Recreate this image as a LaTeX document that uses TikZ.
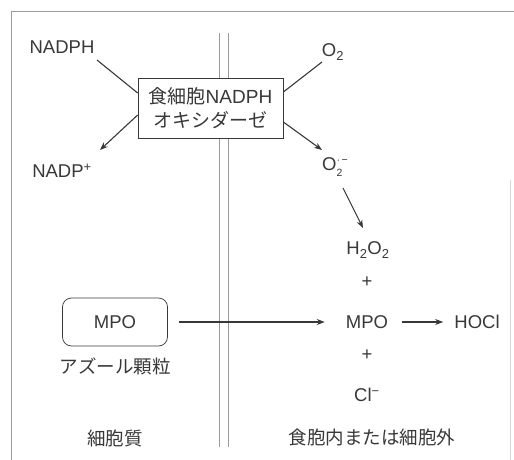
\documentclass[tikz,border=0pt]{standalone}
\usepackage{fontspec}
\setmainfont{Liberation Sans}
\newfontfamily\jp{Noto Sans CJK JP}
\usetikzlibrary{arrows.meta}
\definecolor{ink}{HTML}{383838}
\definecolor{frame}{HTML}{9A9A9A}
\tikzset{
  lbl/.style={text=ink, font=\fontsize{18.5}{21}\selectfont, inner sep=1pt},
  jlbl/.style={text=ink, font=\fontsize{18.5}{21}\selectfont\jp, inner sep=1pt},
  conn/.style={draw=ink, line width=1.1pt},
  arr/.style={conn, -{Stealth[length=8pt,width=6pt]}},
}
\newcommand{\stk}[2]{{\fontsize{10.5}{10.5}\selectfont\begin{tabular}[c]{@{}l@{}}#1\\[3pt]#2\end{tabular}}}
\begin{document}
\begin{tikzpicture}[x=1pt,y=-1pt]
\useasboundingbox (0,0) rectangle (514,460);
% frame
\draw[frame, line width=1pt] (11,460) -- (11,12) -- (514,12);
\draw[frame!40, line width=0.6pt] (510,180) -- (510,460);
% membrane
\draw[frame, line width=1pt] (219,33) -- (219,447);
\draw[frame, line width=1pt] (228,33) -- (228,447);
% nodes
\node[lbl] (nadph) at (62,47) {NADPH};
\node[lbl] (nadpp) at (62,171) {NADP\textsuperscript{+}};
\node[draw=ink, fill=white, line width=0.7pt, minimum width=145pt, minimum height=60pt, inner sep=0pt, align=center, text=ink, font=\fontsize{19}{19}\selectfont] (box) at (210.5,108)
  {{\jp 食細胞}NADPH\\[5pt]{\jp オキシダーゼ}};
\node[lbl] (o2) at (333,52) {O\textsubscript{2}};
\node[lbl] (o2r) at (335,168) {O\stk{·\,−}{2}};
\node[lbl] (h2o2) at (368,250) {H\textsubscript{2}O\textsubscript{2}};
\node[lbl] (plus1) at (367,282) {+};
\node[lbl] (mpo) at (367,322) {MPO};
\node[lbl] (plus2) at (367,355) {+};
\node[lbl] (cl) at (367,395) {Cl\textsuperscript{−}};
\node[lbl] (hocl) at (477,322) {HOCl};
\node[draw=ink, line width=0.7pt, rounded corners=9pt, minimum width=105pt, minimum height=48pt, lbl] (mpobox) at (115,322) {MPO};
\node[jlbl] (azur) at (115,366) {アズール顆粒};
\node[jlbl] (cyto) at (115,438) {細胞質};
\node[jlbl] (ext) at (372,437) {食胞内または細胞外};
% connector end points
\coordinate (c1) at (97,60);
\coordinate (c2) at (100,150);
\coordinate (c3) at (322,62);
\coordinate (c4) at (322,150);
\coordinate (c5) at (343,188);
\coordinate (c6) at (363,228);
% connectors
\draw[conn] (c1) -- ([yshift=15pt]box.west);
\draw[arr] ([yshift=-7pt]box.west) -- (c2);
\draw[conn] (c3) -- ([yshift=16pt]box.east);
\draw[arr] ([yshift=-14pt]box.east) -- (c4);
\draw[arr] (c5) -- (c6);
\draw[arr] ([xshift=11pt]mpobox.east) -- ([xshift=-20pt]mpo.west);
\draw[arr] ([xshift=35pt]mpo.center) -- ([xshift=-10pt]hocl.west);
\end{tikzpicture}
\end{document}
